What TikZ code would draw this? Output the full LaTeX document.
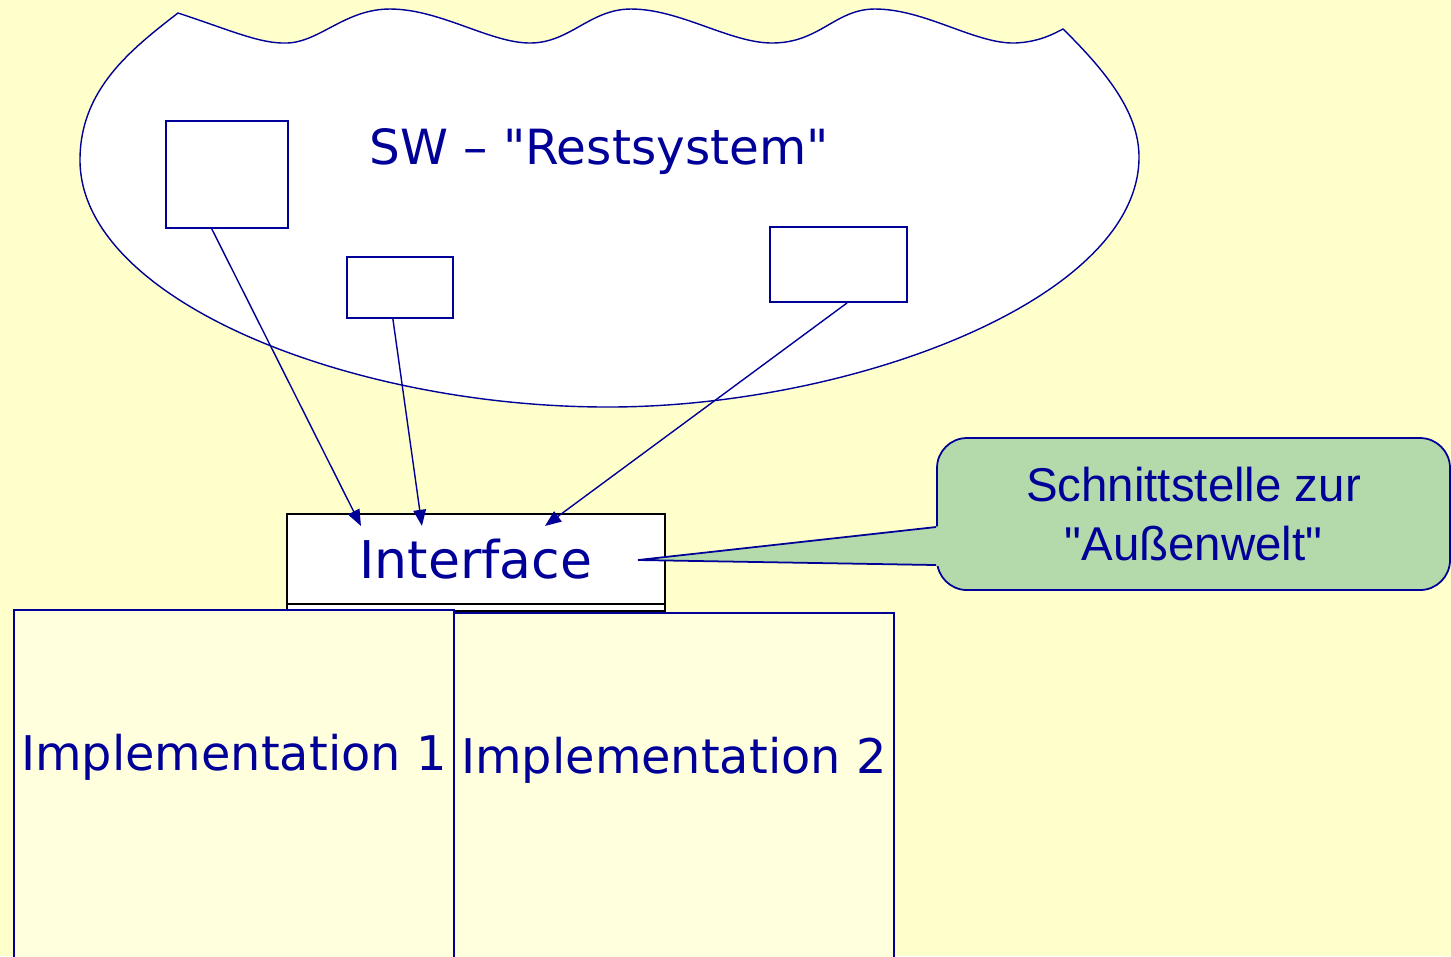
\documentclass[tikz,border=0pt]{standalone}
\usepackage{fontspec}
\setmainfont{DejaVu Sans}
\newfontfamily\notefont{Liberation Sans}
\usetikzlibrary{arrows.meta,calc}
\definecolor{swnavy}{RGB}{0,0,153}
\definecolor{swbg}{RGB}{255,255,204}
\definecolor{swimpl}{RGB}{255,255,222}
\definecolor{swgreen}{RGB}{180,218,172}

\begin{document}
\begin{tikzpicture}[x=0.1mm,y=-0.1mm,line width=0.5pt,
  part/.style={draw=swnavy,fill=white,inner sep=0pt},
  ifacebox/.style={draw=black,fill=white,line width=0.6pt,minimum width=3.78cm,inner sep=0pt},
  implbox/.style={draw=swnavy,fill=swimpl,minimum width=4.4cm,minimum height=3.6cm,inner sep=0pt,anchor=north west},
  impltext/.style={text=swnavy,anchor=base,font=\fontsize{13.6}{16}\selectfont},
  link/.style={swnavy,line width=0.4pt,-{Triangle[length=4.6pt,width=3.6pt]}}]
  \fill[swbg] (0,0) rectangle (1451,956);
  \useasboundingbox (0,0) rectangle (1451,956);
  \clip (0,0) rectangle (1451,956);
  % cloud
  \draw[swnavy,fill=white,line width=0.4pt] (178,13)
    .. controls (230,30) and (260,44) .. (287,43)
    .. controls (320,42) and (345,9) .. (390,9)
    .. controls (440,9) and (490,43) .. (530,43)
    .. controls (570,43) and (590,9) .. (631,9)
    .. controls (680,9) and (730,43) .. (772,43)
    .. controls (820,43) and (835,9) .. (875,9)
    .. controls (925,9) and (975,44) .. (1015,43)
    .. controls (1040,42) and (1055,33) .. (1063,29)
    .. controls (1110,75) and (1139,115) .. (1139,157)
    .. controls (1139,300) and (850,407) .. (608,407)
    .. controls (350,407) and (80,300) .. (80,160)
    .. controls (80,90) and (130,50) .. cycle;
  \node[text=swnavy,anchor=base,font=\fontsize{13.8}{16}\selectfont] (rest) at (599,164)
    {SW – \textquotedbl Restsystem\textquotedbl};
  \node[part,minimum width=1.22cm,minimum height=1.07cm] (p1) at (227,174.5) {};
  \node[part,minimum width=1.06cm,minimum height=0.61cm] (p2) at (400,287.5) {};
  \node[part,minimum width=1.37cm,minimum height=0.75cm] (p3) at (838.5,264.5) {};

  \node[ifacebox,minimum height=0.91cm] (ifaceback) at (476,565.5) {};
  \node[ifacebox,minimum height=0.9cm,text=swnavy,font=\fontsize{14.8}{16}\selectfont] (iface) at (476,559) {Interface};
  \node[implbox] (impl1) at (13,609) {};
  \node[implbox] (impl2) at (453,612) {};
  \node[impltext] at ($(impl1.north)+(0,161)$) {Implementation 1};
  \node[impltext] at ($(impl2.north)+(0,161)$) {Implementation 2};

  \coordinate (t1) at ($(iface.north west)+(75,13)$);
  \coordinate (t2) at ($(iface.north west)+(136,13)$);
  \coordinate (t3) at ($(iface.north west)+(259,13)$);
  \draw[link] ($(p1.south west)!0.377!(p1.south east)$) -- (t1);
  \draw[link] ($(p2.south west)!0.434!(p2.south east)$) -- (t2);
  \draw[link] ($(p3.south west)!0.562!(p3.south east)$) -- (t3);

  % callout
  \node[draw=swnavy,fill=swgreen,rounded corners=0.3cm,minimum width=5.13cm,minimum height=1.52cm,
    align=center,text=swnavy,font=\notefont\fontsize{13.5}{16.8}\selectfont] (note) at (1193.5,514)
    {Schnittstelle zur\\\textquotedbl Außenwelt\textquotedbl};
  \coordinate (tip) at (638,560);
  \coordinate (pa) at ($(note.west)+(0,13)$);
  \coordinate (pb) at ($(note.west)+(0,51)$);
  \fill[swgreen] ($(pa)+(4,-1)$) -- (tip) -- ($(pb)+(4,1)$) -- cycle;
  \draw[swnavy] (pa) -- (tip) -- (pb);
\end{tikzpicture}
\end{document}
